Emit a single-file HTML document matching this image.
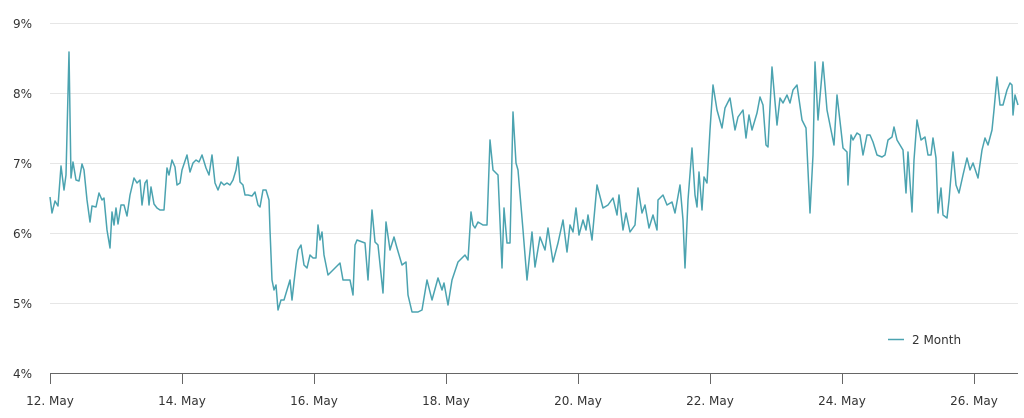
<!DOCTYPE html>
<html><head><meta charset="utf-8"><style>
html,body{margin:0;padding:0;background:#fff;}
svg{display:block;font-family:"DejaVu Sans","Liberation Sans",sans-serif;}
</style></head><body>
<svg width="1024" height="418" viewBox="0 0 1024 418">
<g stroke="#e6e6e6" stroke-width="1">
<line x1="50" x2="1018" y1="23.5" y2="23.5"/>
<line x1="50" x2="1018" y1="93.5" y2="93.5"/>
<line x1="50" x2="1018" y1="163.5" y2="163.5"/>
<line x1="50" x2="1018" y1="233.5" y2="233.5"/>
<line x1="50" x2="1018" y1="303.5" y2="303.5"/>
</g>
<g fill="#333" font-size="12" text-anchor="end">
<text x="32" y="28">9%</text>
<text x="32" y="98">8%</text>
<text x="32" y="168">7%</text>
<text x="32" y="238">6%</text>
<text x="32" y="308">5%</text>
<text x="32" y="378">4%</text>
</g>
<line x1="50" x2="1018" y1="373.5" y2="373.5" stroke="#666" stroke-width="1"/>
<g stroke="#666" stroke-width="1">
<line x1="50.5" x2="50.5" y1="373" y2="384"/>
<line x1="182.5" x2="182.5" y1="373" y2="384"/>
<line x1="314.5" x2="314.5" y1="373" y2="384"/>
<line x1="446.5" x2="446.5" y1="373" y2="384"/>
<line x1="578.5" x2="578.5" y1="373" y2="384"/>
<line x1="710.5" x2="710.5" y1="373" y2="384"/>
<line x1="842.5" x2="842.5" y1="373" y2="384"/>
<line x1="974.5" x2="974.5" y1="373" y2="384"/>
</g>
<g fill="#333" font-size="12" text-anchor="middle">
<text x="50" y="405">12. May</text>
<text x="182" y="405">14. May</text>
<text x="314" y="405">16. May</text>
<text x="446" y="405">18. May</text>
<text x="578" y="405">20. May</text>
<text x="710" y="405">22. May</text>
<text x="842" y="405">24. May</text>
<text x="974" y="405">26. May</text>
</g>
<polyline fill="none" stroke="#4ba3b0" stroke-width="1.5" stroke-linejoin="round" points="
50,197 52,213 55,201 58,206 61,166 64,190 66,175 69,52 71,178 73,162 76,180 79,181 82,164 84,170 87,200 90,222 92,206 96,207 99,193 102,200 104,198 107,230 110,248 112,212 114,225 116,208 118,224 121,205 124,205 127,216 130,195 134,178 137,183 140,180 142,205 145,183 147,180 149,205 151,187 154,204 157,208 160,210 164,210 167,168 169,175 172,160 175,167 177,185 180,183 182,170 187,155 190,172 193,163 196,160 199,162 202,155 206,168 209,175 212,155 215,183 218,190 221,182 224,185 227,183 230,185 233,180 236,170 238,157 240,182 243,185 245,195 248,195 252,196 255,192 258,205 260,207 263,190 266,190 269,200 270,230 272,280 274,290 276,285 278,310 281,300 284,300 287,290 290,280 292,300 294,282 296,265 298,250 301,245 304,265 307,268 310,255 313,258 316,258 318,225 320,240 322,232 324,255 326,265 328,275
340,263 343,280 350,280 353,295 355,245 357,240 365,243 368,280 372,210 375,242 378,245 383,293 386,222 390,250 394,237 397,248 402,265 406,262 408,295 412,312 418,312 422,310 427,280 432,300 438,278 442,290 444,283 448,305 452,280 458,262 465,255 468,260 471,212 473,225 475,228 478,222 483,225 487,225 490,140 493,170 498,175 502,268 504,208 507,243 510,243 513,112 516,163 518,170 523,230 527,280 532,232 535,267 540,237 545,250 548,228 553,262 558,243 563,220 567,252 570,225 573,232 576,208 579,235 583,220 586,230 588,215 592,240 597,185 603,208 608,205 613,198 617,215 619,195 623,230 626,213 630,232 635,225 638,188 642,213 645,205 649,228 653,215 657,230 658,200 663,195 667,205 672,202 675,213 680,185
683,220 685,268 688,200 692,148 695,195 697,207 699,172 702,210 704,177 707,183 710,130 713,85 717,110 722,128 725,108 730,98 735,130 738,117 743,110 746,138 749,115 752,130 757,113 760,97 763,105 766,145 768,147 772,67 777,125 780,98 783,103 787,95 790,103 793,90 797,85 802,120 806,128 810,213 813,155 815,62 818,120 823,62 827,110 830,125 834,145 837,95 841,130 843,148 847,152 848,185 851,135 853,140 857,133 860,135 863,155 867,135 870,135 873,142 877,155 882,157 885,155 888,140 892,137 894,127 897,140 900,145 903,150 906,193 908,152 912,212 914,160 917,120 921,140 925,137 928,155 931,155 933,138 936,158 938,213 941,188 943,215 947,218 949,200 953,152 956,185 959,193 963,175 967,158 970,170 973,163 978,178 982,150 985,138 988,145 992,130 994,110 997,77 1000,105 1003,105 1007,90 1010,83 1012,85 1013,115 1015,95 1018,105"/>
<line x1="888" x2="904" y1="339.5" y2="339.5" stroke="#4ba3b0" stroke-width="1.5"/>
<text x="912" y="344" fill="#333" font-size="12">2 Month</text>
</svg>
</body></html>
